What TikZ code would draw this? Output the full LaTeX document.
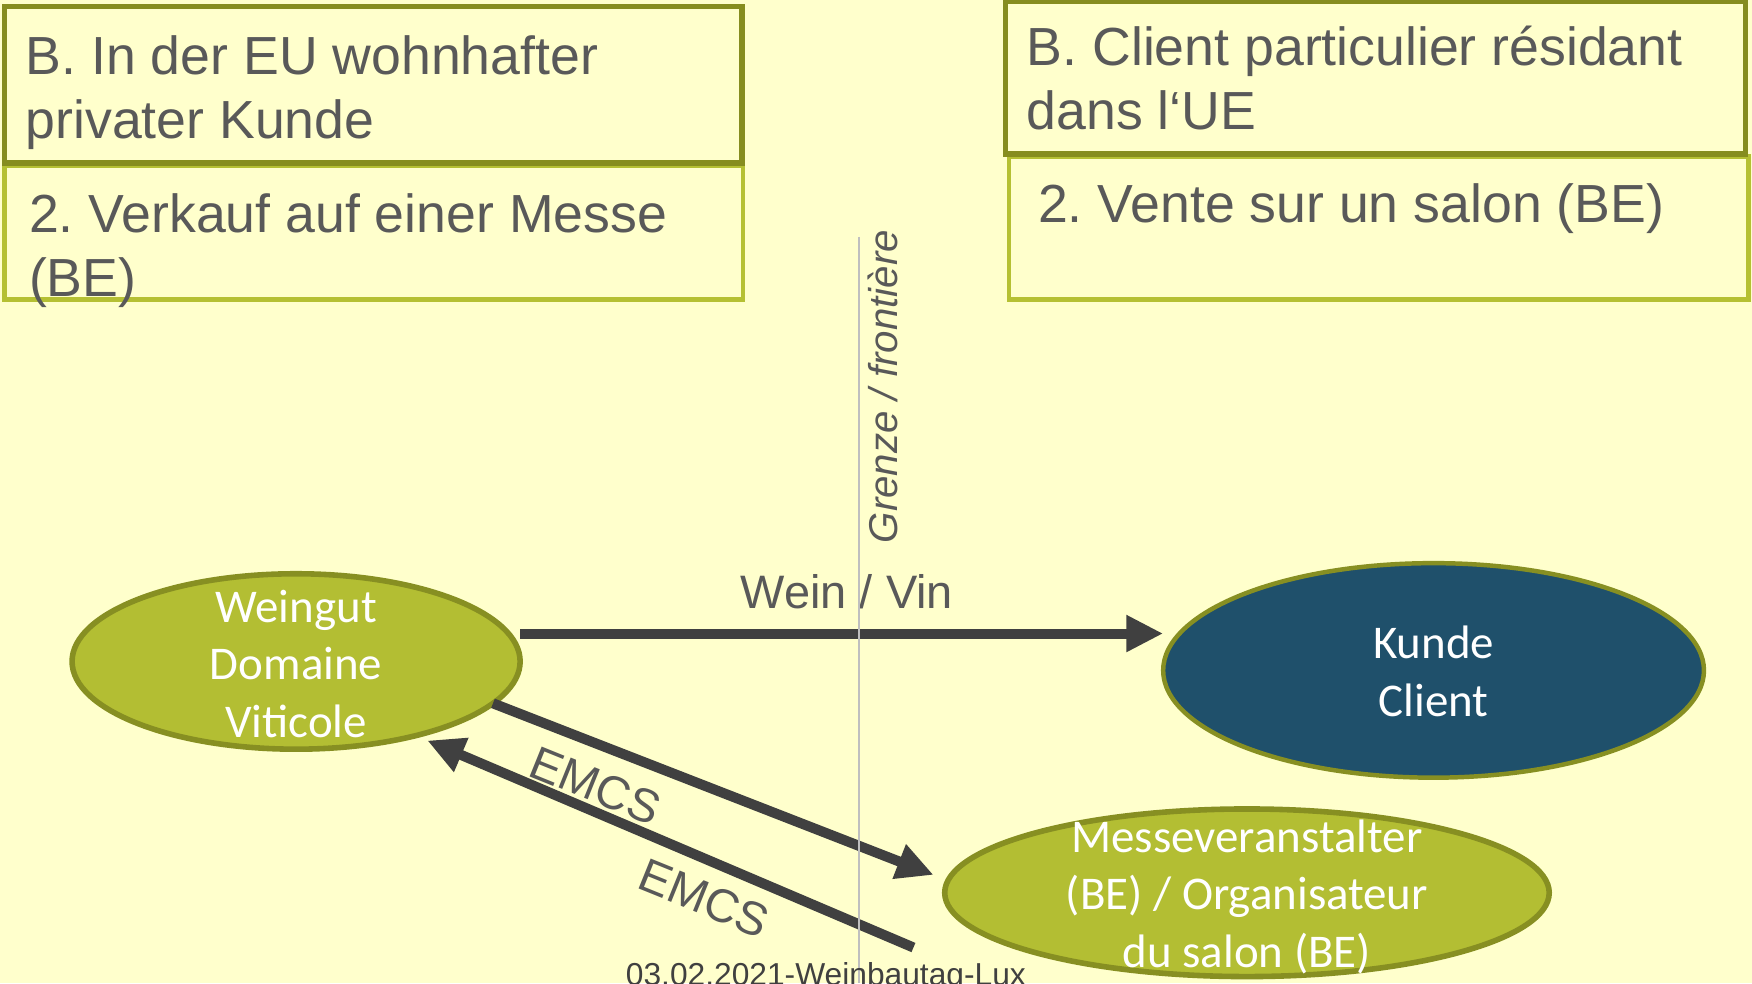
\documentclass[tikz,border=0pt]{standalone}
\usepackage{fontspec}
\setmainfont{Liberation Sans}
\newfontfamily\carlitofont{Carlito}
\usetikzlibrary{arrows.meta,shapes.geometric}
\frenchspacing
\definecolor{bgyellow}{HTML}{FFFFCC}
\definecolor{olivedark}{HTML}{868D1F}
\definecolor{olivelight}{HTML}{B5C033}
\definecolor{ellfill}{HTML}{B3BE33}
\definecolor{ellborder}{HTML}{878F22}
\definecolor{clientblue}{HTML}{1F506B}
\definecolor{txtgray}{HTML}{595959}
\definecolor{arrgray}{HTML}{404040}
\definecolor{linegray}{HTML}{BFBFBF}
\tikzset{
  boxdark/.style={draw=olivedark, line width=5pt},
  boxlight/.style={draw=olivelight, line width=4pt},
  boxtext/.style={inner sep=0pt, outer sep=0pt, align=left, text=txtgray,
    font=\fontsize{48}{57}\selectfont},
  ell/.style={ellipse, draw=ellborder, line width=5pt, inner sep=0pt, outer sep=0pt},
  elltext/.style={align=center, text=white, inner sep=0pt,
    font=\carlitofont\fontsize{42}{51.5}\selectfont},
  arr/.style={draw=arrgray, line width=9pt, -{Triangle[length=33pt,width=31pt]}},
  lbl/.style={inner sep=0pt, text=txtgray, font=\fontsize{42}{50}\selectfont},
}
\begin{document}
\begin{tikzpicture}[x=1pt,y=-1pt]
\useasboundingbox (0,0) rectangle (1568,880);
\clip (0,0) rectangle (1568,880);
\fill[bgyellow] (0,0) rectangle (1568,880);

% top-left boxes (base anchor = baseline of last line)
\draw[boxlight] (4,148) rectangle (665,268);
\draw[boxdark] (4,6) rectangle (664,146);
\node[boxtext, anchor=base west] (tl1) at (23,124) {B. In der EU wohnhafter\\privater Kunde};
\node[boxtext, anchor=base west] (tl2) at (26,265) {2. Verkauf auf einer Messe\\(BE)};

% top-right boxes
\draw[boxlight] (903,140) rectangle (1565,268);
\draw[boxdark] (900,1) rectangle (1562,138);
\node[boxtext, anchor=base west] (tr1) at (919,116) {B. Client particulier résidant\\dans l‘UE};
\node[boxtext, anchor=base west] (tr2) at (929,199) {2. Vente sur un salon (BE)};

% ellipses
\node[ell, fill=ellfill, minimum width=401pt, minimum height=157pt,
  label={[elltext, yshift=-2pt]center:{Weingut\\Domaine\\Viticole}}] (wg) at (265,592) {};
\node[ell, fill=clientblue, draw=ellborder, line width=4pt, minimum width=484pt, minimum height=192pt,
  label={[elltext, yshift=-1pt]center:{Kunde\\Client}}] (kc) at (1283,600) {};
\node[ell, fill=ellfill, minimum width=541pt, minimum height=150pt,
  label={[elltext, yshift=-3.5pt]center:{Messeveranstalter\\(BE) / Organisateur\\du salon (BE)}}] (ms) at (1116,799) {};

% arrows
\coordinate (wy) at (0,567);
\draw[arr] (wg.east |- wy) -- (kc.west |- wy);
\draw[arr] (wg.-12.7) -- ([shift={(-10,-16)}]ms.west);
\draw[arr] ([shift={(-28,49)}]ms.west) -- ([shift={(8,5)}]wg.-31.7);

% labels
\node[lbl, anchor=base] (wein) at (758,545) {Wein / Vin};
\node[lbl, rotate=-22] (emcs1) at (533,703) {EMCS};
\node[lbl, rotate=-22] (emcs2) at (630,804) {EMCS};

% border line
\coordinate (gtop) at (769,212);
\coordinate (gbot) at (769,880);
\draw[linegray, line width=1.5pt] (gtop) -- (gbot);
\node[inner sep=0pt, rotate=90, anchor=base, text=txtgray,
  font=\itshape\fontsize{36}{40}\selectfont] (grenze) at (803,346) {Grenze / frontière};

% footer
\node[inner sep=0pt, anchor=base west, text=arrgray, font=\fontsize{28.4}{31}\selectfont]
  (footer) at (560,882) {03.02.2021-Weinbautag-Lux};
\end{tikzpicture}
\end{document}
